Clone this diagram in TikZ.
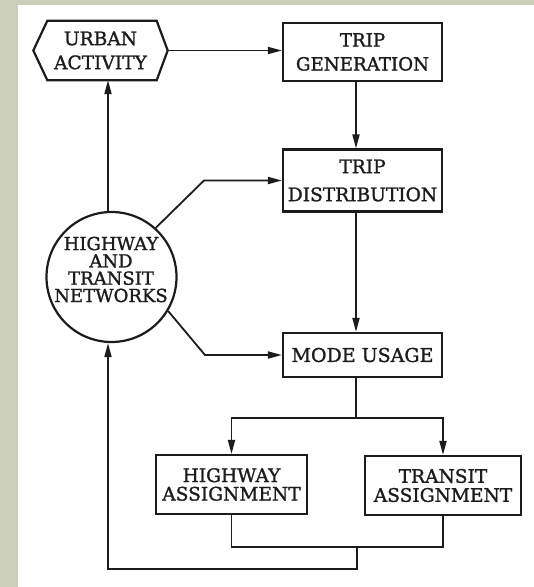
\documentclass[tikz,border=0pt]{standalone}
\usepackage{fontspec}
\setmainfont{DejaVu Serif}[FakeBold=1.3]
\usetikzlibrary{arrows.meta,calc}
\definecolor{bggreen}{RGB}{203,207,185}
\definecolor{ink}{RGB}{28,28,28}
\newcommand\lblfont[2]{\fontsize{#1}{#2}\selectfont\color{ink}}
\begin{document}
\begin{tikzpicture}[x=1pt,y=-1pt,
  box/.style={draw=ink,line width=2.2pt,rectangle,inner sep=0pt,align=center},
  lbl/.style={inner sep=0pt,align=center},
  conn/.style={draw=ink,line width=1.8pt},
  arr/.style={conn,-{Triangle[length=14pt,width=7pt]}}
]
\useasboundingbox (0,0) rectangle (534,587);
\fill[bggreen] (0,0) rectangle (534,587);
\fill[white] (18,5) rectangle (534,587);

% nodes
\node[lbl,minimum width=134pt,minimum height=59pt,font={\lblfont{18.6}{24}}] (urban) at (100.5,50.5) {URBAN\\ACTIVITY};
\draw[ink,line width=2.2pt,line join=miter] ([xshift=14pt]urban.north west) -- ([xshift=-11pt]urban.north east)
  -- (urban.east) -- ([xshift=-11pt]urban.south east) -- ([xshift=14pt]urban.south west)
  -- (urban.west) -- cycle;

\node[box,minimum width=159pt,minimum height=58pt,font={\lblfont{18.2}{24}}] (tripgen) at (362.5,52) {TRIP\\GENERATION};
\node[box,minimum width=159pt,minimum height=62pt,font={\lblfont{18.6}{28}}] (distr) at (362.5,180.5) {TRIP\\DISTRIBUTION};
\node[box,minimum width=159pt,minimum height=44pt,font={\lblfont{19}{24}}] (mode) at (362.5,355) {MODE USAGE};
\node[box,minimum width=151pt,minimum height=59pt,font={\lblfont{18.6}{18.5}}] (hwy) at (231.5,484.5) {HIGHWAY\\ASSIGNMENT};
\node[box,minimum width=156pt,minimum height=59pt,font={\lblfont{18.6}{19}}] (transit) at (443,485.5) {TRANSIT\\ASSIGNMENT};
\node[draw=ink,line width=2.2pt,circle,minimum size=130pt,inner sep=0pt] (circ) at (111.5,277) {};
\node[lbl,font={\lblfont{18}{17.3}}] (circlbl) at (111,269.5) {HIGHWAY\\AND\\TRANSIT\\NETWORKS};

% helper coordinates
\coordinate (b1) at (204,180.5);
\coordinate (b2) at (205,355);
\coordinate (sp) at (356,418);
\coordinate (jn) at (357,547);
\coordinate (lp) at (357,569);

% connectors
\draw[arr] (urban.east) -- (urban.east -| tripgen.west);
\draw[arr] ([xshift=-3.5pt]circ.north) -- ([xshift=-3.5pt]circ.north |- urban.south);
\draw[arr] ([xshift=-6.5pt]tripgen.south) -- ([xshift=-6.5pt]distr.north);
\draw[arr] (circ.48) -- (b1) -- (b1 -| distr.west);
\draw[arr] ([xshift=-6.5pt]distr.south) -- ([xshift=-6.5pt]mode.north);
\draw[arr] (circ.-31) -- (b2) -- (b2 -| mode.west);
\draw[conn] ([xshift=-6.5pt]mode.south) -- (sp);
\draw[arr] (sp) -| (hwy.north);
\draw[arr] (sp) -| (transit.north);
\draw[conn] (hwy.south) |- (jn) -| (transit.south);
\draw[arr] (jn) -- (lp) -| ([xshift=-3.5pt]circ.south);
\end{tikzpicture}
\end{document}
